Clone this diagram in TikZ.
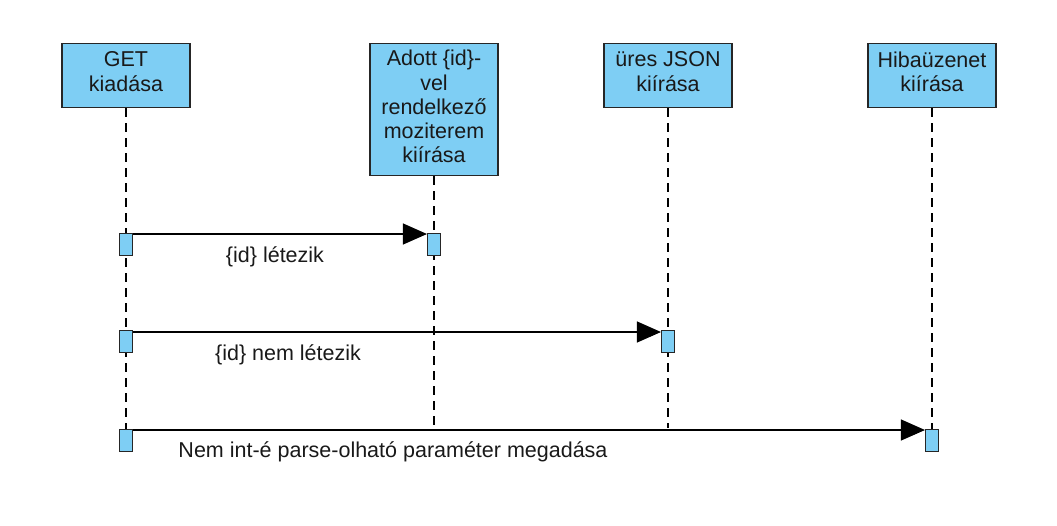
\documentclass[tikz,border=0pt]{standalone}
\usepackage{fontspec}
\setmainfont{Liberation Sans}
\usetikzlibrary{arrows.meta}
\definecolor{boxblue}{RGB}{126,206,244}
\tikzset{
  x=1pt,y=-1pt,
  lifebox/.style={draw=black!85,line width=1.3pt,fill=boxblue,minimum width=128pt,inner sep=0pt,anchor=north},
  boxtext/.style={align=center,inner sep=0pt,font=\fontsize{21.5}{24.3}\selectfont,text=black!90},
  act/.style={draw=black!85,line width=1.1pt,fill=boxblue,minimum width=13pt,minimum height=22pt,inner sep=0pt,anchor=north},
  life/.style={line width=1.1pt,dash pattern=on 9pt off 6pt},
  msg/.style={line width=1.1pt,-{Triangle[length=24pt,width=21pt]}},
  lbl/.style={font=\fontsize{21.5}{24}\selectfont,text=black!90}
}
\begin{document}
\begin{tikzpicture}
\useasboundingbox (0,0) rectangle (1057,525);
\node[lifebox,minimum height=64pt] (b1) at (126,43) {};
\node[lifebox,minimum height=132pt] (b2) at (434,43) {};
\node[lifebox,minimum height=64pt] (b3) at (668,43) {};
\node[lifebox,minimum height=64pt] (b4) at (932,43) {};
\node[boxtext] (t1) at ([yshift=4pt]b1.center) {GET\\kiadása};
\node[boxtext] (t2) at ([yshift=3pt]b2.center) {Adott \{id\}-\\vel\\rendelkező\\moziterem\\kiírása};
\node[boxtext] (t3) at ([yshift=4pt]b3.center) {üres JSON\\kiírása};
\node[boxtext] (t4) at ([yshift=4pt]b4.center) {Hibaüzenet\\kiírása};
\coordinate (e1) at (126,429);
\coordinate (e2) at (434,428);
\coordinate (e3) at (668,428);
\coordinate (e4) at (932,429);
\draw[life] (b1.south) -- (e1);
\draw[life] (b2.south) -- (e2);
\draw[life] (b3.south) -- (e3);
\draw[life] (b4.south) -- (e4);
\node[act] (a1) at (126,233) {};
\node[act] (a2) at (434,233) {};
\node[act] (a3) at (126,330) {};
\node[act] (a4) at (668,330) {};
\node[act] (a5) at (126,429) {};
\node[act] (a6) at (932,429) {};
\draw[msg] (a1.east |- 0,234) -- (a2.west |- 0,234);
\draw[msg] (a3.east |- 0,332) -- (a4.west |- 0,332);
\draw[msg] (a5.east |- 0,430) -- (a6.west |- 0,430);
\node[lbl] (l1) at (275,257) {\{id\} létezik};
\node[lbl] (l2) at (288,355) {\{id\} nem létezik};
\node[lbl] (l3) at (393,452) {Nem int-é parse-olható paraméter megadása};
\end{tikzpicture}
\end{document}
